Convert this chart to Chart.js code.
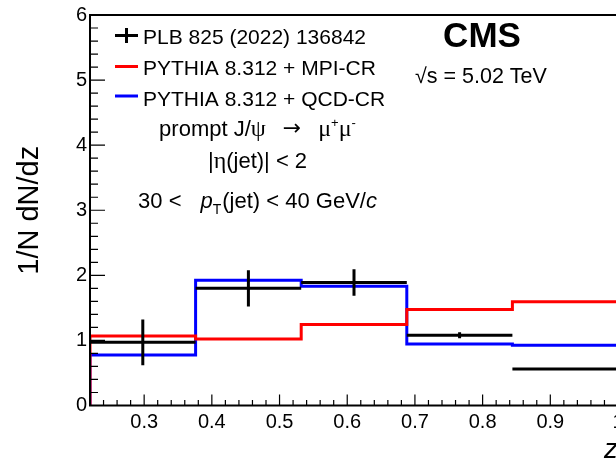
<!DOCTYPE html>
<html>
<head>
<meta charset="utf-8">
<script src="https://cdn.jsdelivr.net/npm/chart.js@4.4.1/dist/chart.umd.min.js"></script>
<style>
  html, body { margin: 0; padding: 0; background: #fff; overflow: hidden; }
  canvas { display: block; }
</style>
</head>
<body>
<canvas id="chart" width="630" height="459"></canvas>
<script>
// z distribution, 30 < pT(jet) < 40 GeV
const binEdges = [0.22, 0.376, 0.532, 0.688, 0.844, 1.0];
const dataValues = [0.97, 1.80, 1.89, 1.08, 0.56];
const dataErrors = [0.35, 0.28, 0.205, 0.045, 0.015];
const mpiCrValues = [1.066, 1.02, 1.246, 1.476, 1.593];
const qcdCrValues = [0.775, 1.926, 1.834, 0.944, 0.924];
const xTickLabels = [0.3, 0.4, 0.5, 0.6, 0.7, 0.8, 0.9, 1];
const yTickLabels = [0, 1, 2, 3, 4, 5, 6];

const SANS = "'Liberation Sans', Arial, sans-serif";
const SERIF = "'Liberation Serif', 'Times New Roman', serif";

// histogram outline: start from zero at the first edge, then one step per bin
function histPoints(vals) {
  const pts = [{ x: binEdges[0], y: 0 }];
  vals.forEach((v, i) => pts.push({ x: binEdges[i], y: v }));
  pts.push({ x: binEdges[binEdges.length - 1], y: vals[vals.length - 1] });
  return pts;
}

const binCenters = dataValues.map((_, i) => (binEdges[i] + binEdges[i + 1]) / 2);

// ROOT style frame with inward ticks
const frameTicks = {
  id: 'frameTicks',
  afterDraw(chart) {
    const { ctx, chartArea: a, scales: { x, y } } = chart;
    ctx.save();
    ctx.strokeStyle = '#000';
    ctx.lineWidth = 1.2;
    ctx.beginPath();
    for (let i = 0; i <= 39; i++) {
      const v = 0.22 + i * 0.02;
      const px = x.getPixelForValue(v);
      const major = Math.abs(v * 10 - Math.round(v * 10)) < 1e-6;
      ctx.moveTo(px, a.bottom);
      ctx.lineTo(px, a.bottom - (major ? 11 : 5.5));
    }
    for (let i = 0; i <= 30; i++) {
      const py = y.getPixelForValue(i * 0.2);
      ctx.moveTo(a.left, py);
      ctx.lineTo(a.left + (i % 5 === 0 ? 15 : 8), py);
    }
    ctx.stroke();
    ctx.lineWidth = 2;
    ctx.strokeRect(a.left, a.top, a.right - a.left, a.bottom - a.top);
    ctx.restore();
  }
};

// data points: bin-width horizontal bars and vertical stat. errors
const errorBars = {
  id: 'errorBars',
  afterDatasetsDraw(chart) {
    const { ctx, scales: { x, y } } = chart;
    ctx.save();
    ctx.strokeStyle = '#000';
    ctx.lineWidth = 3;
    ctx.beginPath();
    dataValues.forEach((v, i) => {
      const py = y.getPixelForValue(v);
      ctx.moveTo(x.getPixelForValue(binEdges[i]), py);
      ctx.lineTo(x.getPixelForValue(binEdges[i + 1]), py);
      const px = x.getPixelForValue(binCenters[i]);
      ctx.moveTo(px, y.getPixelForValue(v + dataErrors[i]));
      ctx.lineTo(px, y.getPixelForValue(v - dataErrors[i]));
    });
    ctx.stroke();
    ctx.restore();
  }
};

// mixed-font line, centred on cx; {gap} parts are blank space in px
function drawRich(ctx, parts, cx, base) {
  let w = 0;
  parts.forEach(p => {
    if (p.gap) { p.w = p.gap; } else { ctx.font = p.f; p.w = ctx.measureText(p.t).width; }
    w += p.w;
  });
  let xx = cx - w / 2;
  parts.forEach(p => {
    if (!p.gap) {
      ctx.font = p.f;
      ctx.fillText(p.t, xx, base + (p.dy || 0));
    }
    xx += p.w;
  });
}

const annotations = {
  id: 'annotations',
  afterDraw(chart) {
    const ctx = chart.ctx;
    const ds = chart.data.datasets;
    ctx.save();
    ctx.fillStyle = '#000';
    ctx.textBaseline = 'alphabetic';
    ctx.textAlign = 'left';

    // legend
    ctx.lineWidth = 3;
    ctx.strokeStyle = '#000';
    ctx.beginPath();
    ctx.moveTo(115, 35.5); ctx.lineTo(138, 35.5);
    ctx.moveTo(126.5, 28); ctx.lineTo(126.5, 43);
    ctx.stroke();
    const rows = [[ds[2], null, 43.5], [ds[0], 66.5, 75], [ds[1], 96, 106]];
    ctx.font = '21px ' + SANS;
    rows.forEach(([d, ly, base]) => {
      if (ly !== null) {
        ctx.strokeStyle = d.borderColor;
        ctx.beginPath();
        ctx.moveTo(115, ly); ctx.lineTo(138, ly);
        ctx.stroke();
      }
      ctx.fillText(d.label, 143, base);
    });

    const f = '22px ' + SANS;
    const g = '24px ' + SERIF;
    const arrow = "22px 'DejaVu Sans', sans-serif";
    const sup = '13px ' + SANS;
    drawRich(ctx, [
      { t: 'prompt J/', f }, { t: 'ψ', f: g }, { gap: 17 }, { t: '→', f: arrow, dy: -1 }, { gap: 17 },
      { t: 'μ', f: g }, { t: '+', f: sup, dy: -9 }, { t: 'μ', f: g }, { t: '-', f: sup, dy: -9 }
    ], 257.5, 135.5);
    drawRich(ctx, [{ t: '|', f }, { t: 'η', f: g }, { t: '(jet)| < 2', f }], 257.5, 168);
    drawRich(ctx, [
      { t: '30 <', f }, { gap: 19 }, { t: 'p', f: 'italic ' + f }, { t: 'T', f: '14px ' + SANS, dy: 6 },
      { gap: 1 }, { t: '(jet) < 40 GeV/', f }, { t: 'c', f: 'italic ' + f }
    ], 257.5, 208);

    ctx.textAlign = 'center';
    ctx.font = 'bold 35px ' + SANS;
    ctx.fillText('CMS', 482, 47);
    ctx.textAlign = 'left';
    ctx.font = '21.5px ' + SANS;
    ctx.fillText('√s = 5.02 TeV', 415, 83);
    ctx.restore();
  }
};

const tickFont = { family: SANS, size: 20 };

new Chart(document.getElementById('chart'), {
  type: 'line',
  data: {
    datasets: [
      {
        label: 'PYTHIA 8.312 + MPI-CR',
        data: histPoints(mpiCrValues),
        stepped: 'before',
        borderColor: '#ff0000',
        borderWidth: 3,
        pointRadius: 0,
        fill: false
      },
      {
        label: 'PYTHIA 8.312 + QCD-CR',
        data: histPoints(qcdCrValues),
        stepped: 'before',
        borderColor: '#0000ff',
        borderWidth: 3,
        pointRadius: 0,
        fill: false
      },
      {
        label: 'PLB 825 (2022) 136842',
        data: binCenters.map((c, i) => ({ x: c, y: dataValues[i] })),
        showLine: false,
        pointRadius: 0,
        borderColor: '#000'
      }
    ]
  },
  options: {
    responsive: false,
    animation: false,
    layout: { padding: { left: 0, top: 14.5, right: 12, bottom: 0 } },
    plugins: { legend: { display: false }, tooltip: { enabled: false } },
    scales: {
      x: {
        type: 'linear',
        min: 0.22,
        max: 1.0,
        afterBuildTicks: s => { s.ticks = xTickLabels.map(v => ({ value: v })); },
        afterFit: s => { s.height = 53.5; },
        ticks: {
          font: tickFont,
          color: '#000',
          padding: 5,
          maxRotation: 0,
          autoSkip: false,
          callback: v => String(+v.toFixed(1))
        },
        grid: { display: false, drawTicks: false },
        border: { display: false },
        title: {
          display: true,
          text: 'z',
          align: 'end',
          color: '#000',
          padding: 0,
          font: { family: SANS, size: 28, style: 'italic', lineHeight: 0.62 }
        }
      },
      y: {
        min: 0,
        max: 6,
        afterBuildTicks: s => { s.ticks = yTickLabels.map(v => ({ value: v })); },
        afterFit: s => { s.width = 90; },
        ticks: { font: tickFont, color: '#000', padding: 3 },
        grid: { display: false, drawTicks: false },
        border: { display: false },
        title: {
          display: true,
          text: '1/N dN/dz',
          color: '#000',
          padding: { top: 12.6, bottom: 0 },
          font: { family: SANS, size: 29, lineHeight: 1.2 }
        }
      }
    }
  },
  plugins: [frameTicks, errorBars, annotations]
});
</script>
</body>
</html>
